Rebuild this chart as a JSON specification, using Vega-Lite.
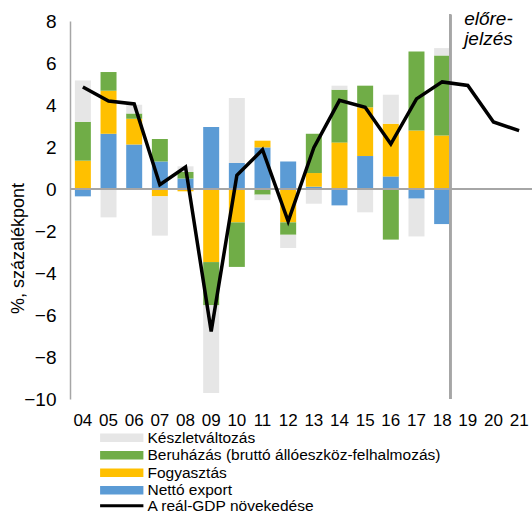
{
  "$schema": "https://vega.github.io/schema/vega-lite/v6.json",
  "width": 462,
  "height": 378,
  "autosize": {"type": "none"},
  "padding": {"left": 70, "top": 21, "right": 0, "bottom": 114},
  "config": {
    "font": "Liberation Sans",
    "view": {"stroke": null},
    "axis": {"labelColor": "#000000", "titleColor": "#000000", "grid": false, "ticks": false, "titleFontWeight": "normal"},
    "legend": {"labelColor": "#000000", "labelFont": "Liberation Sans"}
  },
  "datasets": {
    "components": [
      {"ev": "04", "c": "Nettó export", "v": -0.35},
      {"ev": "04", "c": "Fogyasztás", "v": 1.35},
      {"ev": "04", "c": "Beruházás (bruttó állóeszköz-felhalmozás)", "v": 1.85},
      {"ev": "04", "c": "Készletváltozás", "v": 1.97},
      {"ev": "05", "c": "Nettó export", "v": 2.63},
      {"ev": "05", "c": "Fogyasztás", "v": 2.05},
      {"ev": "05", "c": "Beruházás (bruttó állóeszköz-felhalmozás)", "v": 0.89},
      {"ev": "05", "c": "Készletváltozás", "v": -1.35},
      {"ev": "06", "c": "Nettó export", "v": 2.12},
      {"ev": "06", "c": "Fogyasztás", "v": 1.23},
      {"ev": "06", "c": "Beruházás (bruttó állóeszköz-felhalmozás)", "v": 0.24},
      {"ev": "06", "c": "Készletváltozás", "v": 0.42},
      {"ev": "07", "c": "Nettó export", "v": 1.31},
      {"ev": "07", "c": "Fogyasztás", "v": -0.35},
      {"ev": "07", "c": "Beruházás (bruttó állóeszköz-felhalmozás)", "v": 1.07},
      {"ev": "07", "c": "Készletváltozás", "v": -1.87},
      {"ev": "08", "c": "Nettó export", "v": 0.5},
      {"ev": "08", "c": "Fogyasztás", "v": -0.11},
      {"ev": "08", "c": "Beruházás (bruttó állóeszköz-felhalmozás)", "v": 0.31},
      {"ev": "08", "c": "Készletváltozás", "v": 0.27},
      {"ev": "09", "c": "Nettó export", "v": 2.95},
      {"ev": "09", "c": "Fogyasztás", "v": -3.48},
      {"ev": "09", "c": "Beruházás (bruttó állóeszköz-felhalmozás)", "v": -2.06},
      {"ev": "09", "c": "Készletváltozás", "v": -4.17},
      {"ev": "10", "c": "Nettó export", "v": 1.24},
      {"ev": "10", "c": "Fogyasztás", "v": -1.59},
      {"ev": "10", "c": "Beruházás (bruttó állóeszköz-felhalmozás)", "v": -2.12},
      {"ev": "10", "c": "Készletváltozás", "v": 3.09},
      {"ev": "11", "c": "Nettó export", "v": 1.98},
      {"ev": "11", "c": "Fogyasztás", "v": 0.32},
      {"ev": "11", "c": "Beruházás (bruttó állóeszköz-felhalmozás)", "v": -0.27},
      {"ev": "11", "c": "Készletváltozás", "v": -0.26},
      {"ev": "12", "c": "Nettó export", "v": 1.31},
      {"ev": "12", "c": "Fogyasztás", "v": -1.59},
      {"ev": "12", "c": "Beruházás (bruttó állóeszköz-felhalmozás)", "v": -0.59},
      {"ev": "12", "c": "Készletváltozás", "v": -0.63},
      {"ev": "13", "c": "Nettó export", "v": 0.11},
      {"ev": "13", "c": "Fogyasztás", "v": 0.65},
      {"ev": "13", "c": "Beruházás (bruttó állóeszköz-felhalmozás)", "v": 1.87},
      {"ev": "13", "c": "Készletváltozás", "v": -0.7},
      {"ev": "14", "c": "Nettó export", "v": -0.78},
      {"ev": "14", "c": "Fogyasztás", "v": 2.22},
      {"ev": "14", "c": "Beruházás (bruttó állóeszköz-felhalmozás)", "v": 2.51},
      {"ev": "14", "c": "Készletváltozás", "v": 0.19},
      {"ev": "15", "c": "Nettó export", "v": 1.57},
      {"ev": "15", "c": "Fogyasztás", "v": 2.32},
      {"ev": "15", "c": "Beruházás (bruttó állóeszköz-felhalmozás)", "v": 1.03},
      {"ev": "15", "c": "Készletváltozás", "v": -1.11},
      {"ev": "16", "c": "Nettó export", "v": 0.6},
      {"ev": "16", "c": "Fogyasztás", "v": 2.51},
      {"ev": "16", "c": "Beruházás (bruttó állóeszköz-felhalmozás)", "v": -2.41},
      {"ev": "16", "c": "Készletváltozás", "v": 1.38},
      {"ev": "17", "c": "Nettó export", "v": -0.46},
      {"ev": "17", "c": "Fogyasztás", "v": 2.78},
      {"ev": "17", "c": "Beruházás (bruttó állóeszköz-felhalmozás)", "v": 3.77},
      {"ev": "17", "c": "Készletváltozás", "v": -1.8},
      {"ev": "18", "c": "Nettó export", "v": -1.67},
      {"ev": "18", "c": "Fogyasztás", "v": 2.55},
      {"ev": "18", "c": "Beruházás (bruttó állóeszköz-felhalmozás)", "v": 3.81},
      {"ev": "18", "c": "Készletváltozás", "v": 0.35}
    ],
    "gdp": [
      {"ev": "04", "g": 4.86},
      {"ev": "05", "g": 4.19},
      {"ev": "06", "g": 4.05},
      {"ev": "07", "g": 0.2},
      {"ev": "08", "g": 1.05},
      {"ev": "09", "g": -6.78},
      {"ev": "10", "g": 0.65},
      {"ev": "11", "g": 1.87},
      {"ev": "12", "g": -1.54},
      {"ev": "13", "g": 1.97},
      {"ev": "14", "g": 4.22},
      {"ev": "15", "g": 3.89},
      {"ev": "16", "g": 2.14},
      {"ev": "17", "g": 4.29},
      {"ev": "18", "g": 5.1},
      {"ev": "19", "g": 4.93},
      {"ev": "20", "g": 3.19},
      {"ev": "21", "g": 2.78}
    ]
  },
  "encoding": {
    "x": {
      "field": "ev",
      "type": "ordinal",
      "scale": {
        "domain": ["04","05","06","07","08","09","10","11","12","13","14","15","16","17","18","19","20","21"],
        "paddingInner": 0.377,
        "paddingOuter": 0.19
      },
      "axis": {"title": null, "labelAngle": 0, "domain": false, "labelFontSize": 17, "labelPadding": 13}
    }
  },
  "layer": [
    {
      "data": {"name": "components"},
      "transform": [
        {"calculate": "indexof(['Nettó export','Fogyasztás','Beruházás (bruttó állóeszköz-felhalmozás)','Készletváltozás'], datum.c)", "as": "ord"}
      ],
      "mark": {"type": "bar"},
      "encoding": {
        "y": {
          "field": "v",
          "type": "quantitative",
          "stack": "zero",
          "scale": {"domain": [-10, 8], "nice": false, "zero": false},
          "axis": {
            "title": "%, százalékpont",
            "titleFontSize": 18,
            "titleAngle": -90,
            "titleX": -52,
            "titleY": 227,
            "titleAlign": "center",
            "titleBaseline": "middle",
            "values": [-10, -8, -6, -4, -2, 0, 2, 4, 6, 8],
            "labelFontSize": 19,
            "labelPadding": 14,
            "domainColor": "#A6A6A6",
            "domainWidth": 1.5
          }
        },
        "color": {
          "field": "c",
          "type": "nominal",
          "scale": {
            "domain": ["Készletváltozás", "Beruházás (bruttó állóeszköz-felhalmozás)", "Fogyasztás", "Nettó export"],
            "range": ["#E6E6E6", "#70AD47", "#FFC000", "#5B9BD5"]
          },
          "legend": {
            "title": null,
            "orient": "none",
            "legendX": 44,
            "legendY": 409,
            "symbolType": "M-5,-1H5V1H-5Z",
            "symbolSize": 75,
            "symbolStrokeWidth": 0,
            "labelFontSize": 15.5,
            "labelOffset": 18,
            "labelLimit": 400,
            "rowPadding": 0.5
          }
        },
        "order": {"field": "ord", "type": "quantitative"}
      }
    },
    {
      "data": {"name": "components"},
      "mark": {"type": "rule", "color": "#A6A6A6", "strokeWidth": 2},
      "encoding": {"x": null, "y": {"datum": 0}}
    },
    {
      "data": {"name": "gdp"},
      "mark": {"type": "rule", "color": "#A6A6A6", "strokeWidth": 2},
      "encoding": {
        "x": {"datum": "18", "bandPosition": 1},
        "y": {"datum": 8.3},
        "y2": {"datum": -10}
      }
    },
    {
      "data": {"name": "gdp"},
      "mark": {"type": "line", "strokeWidth": 3.5, "strokeJoin": "miter"},
      "encoding": {
        "y": {"field": "g", "type": "quantitative"},
        "stroke": {
          "datum": "A reál-GDP növekedése",
          "scale": {"range": ["#000000"]},
          "legend": {
            "title": null,
            "orient": "none",
            "legendX": 44,
            "legendY": 477,
            "symbolType": "M-5,0H5",
            "symbolSize": 75,
            "symbolStrokeWidth": 3,
            "labelFontSize": 15.5,
            "labelOffset": 18,
            "labelLimit": 400
          }
        }
      }
    },
    {
      "data": {"values": [{}]},
      "mark": {
        "type": "text",
        "text": ["előre-", "jelzés"],
        "fontSize": 19,
        "fontStyle": "italic",
        "align": "left",
        "baseline": "alphabetic",
        "lineHeight": 20,
        "dx": 14
      },
      "encoding": {
        "x": {"datum": "18", "bandPosition": 1},
        "y": {"datum": 7.82}
      }
    }
  ]
}
